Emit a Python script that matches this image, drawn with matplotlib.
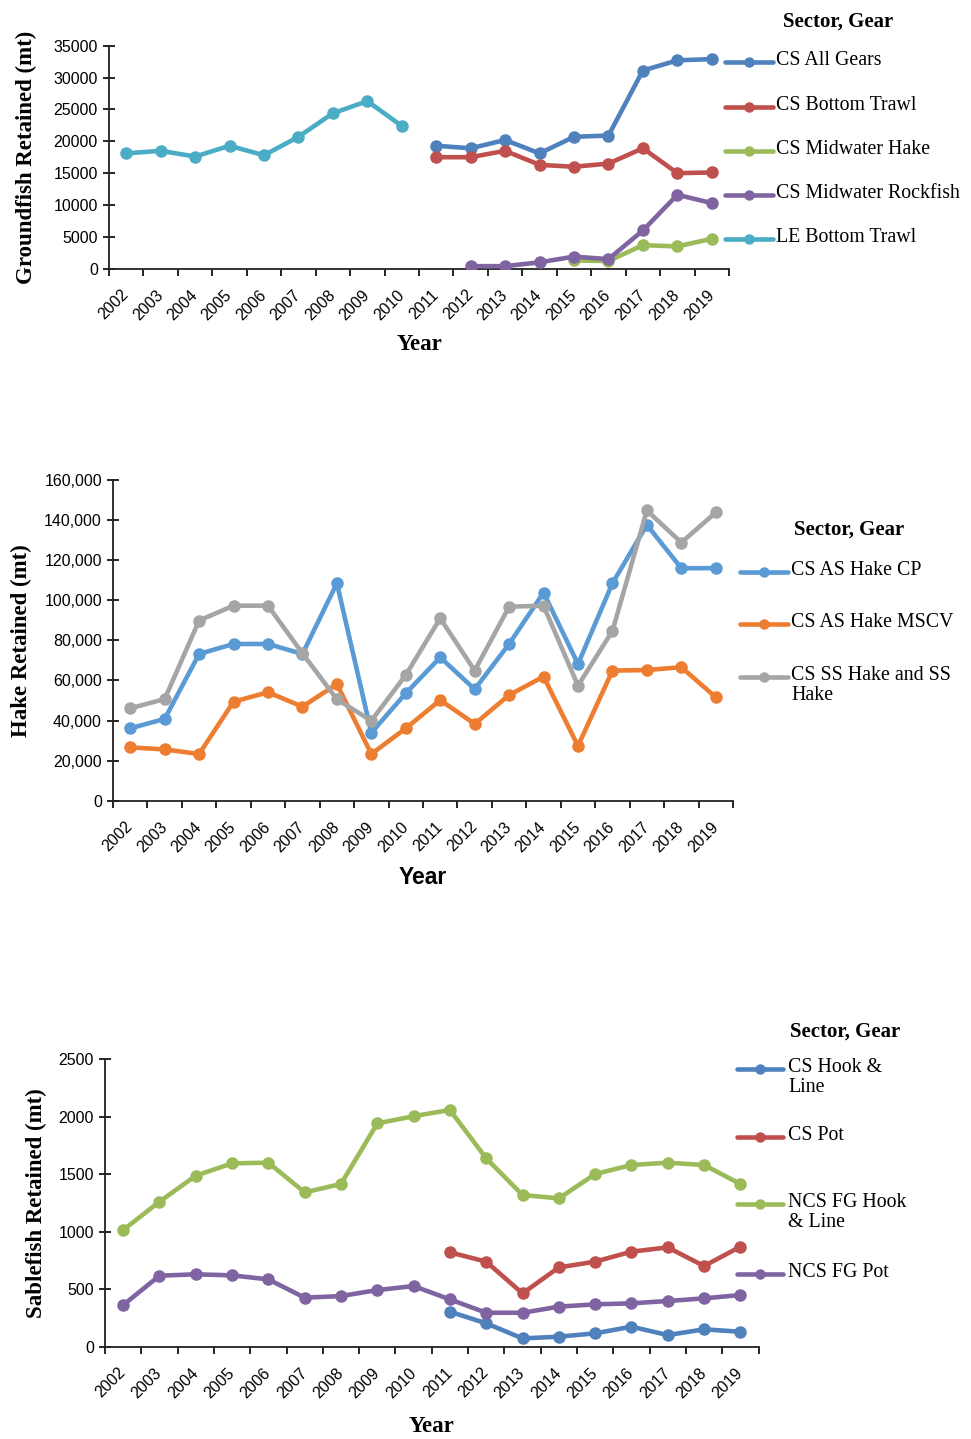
import numpy as np
import matplotlib.pyplot as plt
from matplotlib.lines import Line2D
from matplotlib.ticker import FuncFormatter

nan = np.nan
years = [str(y) for y in range(2002, 2020)]

# groundfish retained (mt)
gf_names = ['CS All Gears', 'CS Bottom Trawl', 'CS Midwater Hake',
            'CS Midwater Rockfish', 'LE Bottom Trawl']
cs_all_gears = [nan] * 9 + [19300, 18900, 20200, 18100, 20700, 20900, 31100, 32700, 32900]
cs_bottom_trawl = [nan] * 9 + [17500, 17500, 18500, 16300, 16000, 16500, 18900, 15000, 15100]
cs_midwater_hake = [nan] * 13 + [1300, 1200, 3700, 3500, 4700]
cs_midwater_rockfish = [nan] * 10 + [400, 400, 1000, 1900, 1500, 6000, 11600, 10300]
le_bottom_trawl = [18100, 18500, 17600, 19300, 17800, 20700, 24400, 26300, 22400] + [nan] * 9

# hake retained (mt)
hake_names = ['CS AS Hake CP', 'CS AS Hake MSCV', 'CS SS Hake and SS\nHake']
hake_cp = [36100, 40800, 73200, 78200, 78200, 73200, 108500, 33900, 53600,
           71500, 55600, 78200, 103800, 68200, 108500, 137600, 116000, 116000]
hake_mscv = [26600, 25600, 23300, 49400, 54100, 46900, 58200, 23300, 36100,
             50200, 38300, 52700, 61900, 27300, 64900, 65200, 66600, 51600]
hake_ss = [46100, 50700, 89900, 97300, 97300, 73500, 50600, 39900, 62700,
           91000, 64900, 96800, 97300, 57400, 84700, 144800, 128800, 143800]

# sablefish retained (mt)
sab_names = ['CS Hook &\nLine', 'CS Pot', 'NCS FG Hook\n& Line', 'NCS FG Pot']
cs_hook_line = [nan] * 9 + [304, 203, 72, 87, 116, 174, 101, 151, 130]
cs_pot = [nan] * 9 + [820, 739, 463, 689, 739, 826, 863, 701, 869]
ncs_hook_line = [1014, 1260, 1486, 1593, 1599, 1341, 1414, 1940, 2003,
                 2057, 1637, 1318, 1289, 1500, 1579, 1599, 1579, 1414]
ncs_pot = [362, 617, 629, 620, 585, 426, 440, 492, 527,
           411, 295, 295, 348, 368, 377, 397, 420, 449]

W, H = 971, 1439
SERIF = ['Liberation Serif', 'DejaVu Serif']
SANS = ['Liberation Sans', 'DejaVu Sans']


def fx(x):
    return x / W


def fy(y):
    return 1 - y / H


def panel(fig, box, series, colors, ymax, ystep, ylabel, xlabel_font,
          ylabelpad, xlabelpad, comma=False):
    l, t, r, b = box
    ax = fig.add_axes([fx(l), fy(b), fx(r) - fx(l), fy(t) - fy(b)])
    x = np.arange(len(years))
    for vals, c in zip(series, colors):
        ax.plot(x, np.array(vals, dtype=float), color=c, lw=3.3, marker='o',
                ms=8, solid_capstyle='round', zorder=3)
    ax.set_xlim(-0.5, len(years) - 0.5)
    ax.set_ylim(0, ymax)
    ax.set_yticks(np.arange(0, ymax + 1, ystep))
    if comma:
        ax.yaxis.set_major_formatter(FuncFormatter(lambda v, p: f'{int(v):,}'))
    ax.set_xticks(np.arange(-0.5, len(years)))
    ax.set_xticklabels([])
    ax.set_xticks(x, minor=True)
    ax.set_xticklabels(years, minor=True, rotation=45, ha='right', va='center',
                       rotation_mode='anchor', family=SANS, fontsize=11.5)
    ax.tick_params(axis='x', which='major', direction='out', length=5, width=1.2)
    ax.tick_params(axis='x', which='minor', length=0, pad=17)
    ax.tick_params(axis='y', direction='inout', length=8, width=1.2, pad=4)
    for lab in ax.get_yticklabels():
        lab.set_family(SANS)
        lab.set_fontsize(11.5)
    for s in ['top', 'right']:
        ax.spines[s].set_visible(False)
    for s in ['left', 'bottom']:
        ax.spines[s].set_linewidth(1.3)
        ax.spines[s].set_color('#222222')
    ax.set_ylabel(ylabel, family=SERIF, fontweight='bold', fontsize=16.5,
                  labelpad=ylabelpad)
    ax.set_xlabel('Year', family=xlabel_font, fontweight='bold', fontsize=16.5,
                  labelpad=xlabelpad)
    return ax


def side_legend(fig, names, colors, title_xy, x0, x1, xtext, rows):
    fig.text(fx(title_xy[0]), fy(title_xy[1]), 'Sector, Gear', family=SERIF,
             fontweight='bold', fontsize=15, ha='center', va='center')
    for name, c, y in zip(names, colors, rows):
        fig.add_artist(Line2D([fx(x0), fx(x1)], [fy(y), fy(y)], color=c, lw=3.3,
                              solid_capstyle='round', transform=fig.transFigure))
        fig.add_artist(Line2D([fx((x0 + x1) / 2)], [fy(y)], color=c, marker='o',
                              ms=6.5, transform=fig.transFigure))
        fig.text(fx(xtext), fy(y - 11), name, family=SERIF, fontsize=14.3,
                 ha='left', va='top', linespacing=1.05)


fig = plt.figure(figsize=(W / 100, H / 100), dpi=100)

c1 = ['#4F81BD', '#C0504D', '#9BBB59', '#8064A2', '#4BACC6']
panel(fig, (109, 45.7, 729, 268.7),
      [cs_all_gears, cs_bottom_trawl, cs_midwater_hake, cs_midwater_rockfish, le_bottom_trawl],
      c1, 35000, 5000, 'Groundfish Retained (mt)', SERIF, 12, 8)
side_legend(fig, gf_names, c1, (838, 22), 725, 773, 776, [62, 107, 151, 195, 239])

c2 = ['#5B9BD5', '#ED7D31', '#A5A5A5']
panel(fig, (113, 480, 733, 800.7), [hake_cp, hake_mscv, hake_ss],
      c2, 160000, 20000, 'Hake Retained (mt)', SANS, 9, 8, comma=True)
side_legend(fig, hake_names, c2, (849, 530), 740, 788, 791, [572, 624, 677])

c3 = ['#4F81BD', '#C0504D', '#9BBB59', '#8064A2']
panel(fig, (105, 1059, 758.5, 1346.7), [cs_hook_line, cs_pot, ncs_hook_line, ncs_pot],
      c3, 2500, 500, 'Sablefish Retained (mt)', SERIF, 8, 11)
side_legend(fig, sab_names, c3, (845, 1032), 737, 783, 788, [1069, 1137, 1204, 1274])

fig.savefig('out.png', dpi=100)
